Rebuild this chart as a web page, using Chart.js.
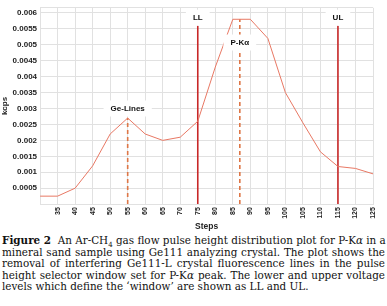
<!DOCTYPE html>
<html>
<head>
<meta charset="utf-8">
<script src="https://cdn.jsdelivr.net/npm/chart.js@4"></script>
<style>
  html, body { margin: 0; padding: 0; background: #fff; }
  body { width: 387px; height: 306px; overflow: hidden; }
  #wrap { position: relative; width: 387px; height: 232px; }
  #caption {
    position: absolute; left: 2px; top: 235px; width: 383px;
    font-family: "DejaVu Serif", serif; font-size: 10.4px; line-height: 11.6px; color: #111;
  }
  #caption div { text-align: justify; text-align-last: justify; white-space: nowrap; }
  #caption div.last { text-align-last: left; }
</style>
</head>
<body>
<div id="wrap"><canvas id="myChart"></canvas></div>
<div id="caption">
  <div><b>Figure 2</b>&nbsp; An Ar-CH<sub style="font-size:7px;line-height:0">4</sub> gas flow pulse height distribution plot for P-K<i>α</i> in a</div>
  <div>mineral sand sample using Ge111 analyzing crystal. The plot shows the</div>
  <div>removal of interfering Ge111-L crystal fluorescence lines in the pulse</div>
  <div>height selector window set for P-K<i>α</i> peak. The lower and upper voltage</div>
  <div class="last">levels which define the ‘window’ are shown as LL and UL.</div>
</div>
<script>
  // setup
  const steps = [30, 35, 40, 45, 50, 55, 60, 65, 70, 75, 80, 85, 90, 95, 100, 105, 110, 115, 120, 125];
  const kcps = [0.00025, 0.00025, 0.0005, 0.0012, 0.0022, 0.0027, 0.0022, 0.002, 0.0021, 0.0026,
                0.0043, 0.0058, 0.0058, 0.0052, 0.0035, 0.00255, 0.00164, 0.00118, 0.00112, 0.00095];
  const yTicks = [0, 0.0005, 0.001, 0.0015, 0.002, 0.0025, 0.003, 0.0035, 0.004, 0.0045, 0.005, 0.0055, 0.006];

  // window levels and peak markers
  const levelNames = ['LL', 'UL'];
  const levelSteps = [75, 115];
  const levelTop = 0.0056;
  const peakNames = ['Ge-Lines', 'P-K\u03b1'];
  const peakSteps = [55, 87];
  const peakTops = [0.0027, 0.0058];
  const labelY = [0.00585, 0.00585, 0.0030, 0.00507]; // LL, UL, Ge-Lines, P-Ka

  const lineColor = 'rgba(232, 120, 100, 1)';
  const levelColor = 'rgba(200, 40, 40, 1)';
  const peakColor = 'rgba(222, 118, 70, 1)';

  const datasets = [{
    label: 'kcps',
    data: steps.map((s, i) => ({x: s, y: kcps[i]})),
    borderColor: lineColor,
    borderWidth: 1,
    pointRadius: 0,
    tension: 0
  }];
  levelSteps.forEach((s) => {
    datasets.push({
      data: [{x: s, y: 0}, {x: s, y: levelTop}],
      borderColor: levelColor, borderWidth: 1.6, pointRadius: 0
    });
  });
  peakSteps.forEach((s, i) => {
    datasets.push({
      data: [{x: s, y: 0}, {x: s, y: peakTops[i]}],
      borderColor: peakColor, borderWidth: 1.6, borderDash: [4, 3], pointRadius: 0
    });
  });

  const markerLabels = {
    id: 'markerLabels',
    afterDatasetsDraw(chart) {
      const {ctx, scales: {x, y}} = chart;
      const names = levelNames.concat(peakNames);
      const xs = levelSteps.concat(peakSteps);
      ctx.save();
      ctx.font = 'bold 8px "Liberation Sans", Arial, sans-serif';
      ctx.textAlign = 'center';
      ctx.textBaseline = 'middle';
      names.forEach((name, i) => {
        const px = x.getPixelForValue(xs[i]);
        const py = y.getPixelForValue(labelY[i]);
        const w = ctx.measureText(name).width + 14;
        ctx.fillStyle = '#fff';
        ctx.fillRect(px - w / 2, py - 8, w, 16);
        ctx.fillStyle = '#111';
        ctx.fillText(name, px, py);
      });
      ctx.restore();
    }
  };

  const tickFont = {family: '"Liberation Sans", Arial, sans-serif', size: 8, weight: 'bold'};

  // config
  const config = {
    type: 'line',
    data: {datasets},
    options: {
      responsive: true,
      maintainAspectRatio: false,
      animation: false,
      layout: {padding: {top: 4, right: 14, left: 0, bottom: 0}},
      plugins: {legend: {display: false}, tooltip: {enabled: false}},
      scales: {
        x: {
          type: 'linear',
          min: 30, max: 125,
          grid: {color: 'rgba(225,225,225,1)', drawTicks: false},
          border: {color: 'rgba(225,225,225,1)'},
          ticks: {
            stepSize: 5, autoSkip: false, minRotation: 90, maxRotation: 90,
            color: '#222', font: {family: tickFont.family, size: 7, weight: 'bold'}, padding: 3,
            callback: (v) => v === 30 ? '' : v
          },
          title: {display: true, text: 'Steps', color: '#222', font: {family: tickFont.family, size: 8.5, weight: 'bold'}, padding: {top: 0, bottom: 0}}
        },
        y: {
          min: 0, max: 0.00616,
          grid: {color: 'rgba(225,225,225,1)', drawTicks: false},
          border: {color: 'rgba(225,225,225,1)'},
          afterBuildTicks: (axis) => {
            axis.ticks = yTicks.concat([0.00616]).map((v) => ({value: v}));
          },
          ticks: {
            color: '#222', font: tickFont, padding: 3,
            callback: (v) => (v === 0 || v > 0.00601) ? '' : String(+v.toFixed(4))
          },
          title: {display: true, text: 'kcps', color: '#222', font: {family: tickFont.family, size: 8, weight: 'bold'}, padding: {top: 0, bottom: 0}}
        }
      }
    },
    plugins: [markerLabels]
  };

  // render init block
  const myChart = new Chart(document.getElementById('myChart'), config);
</script>
</body>
</html>
